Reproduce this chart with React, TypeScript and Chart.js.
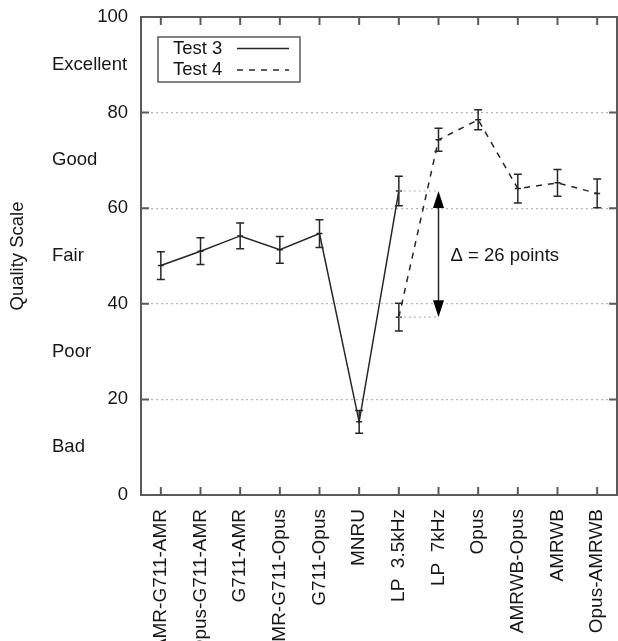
import React, { useEffect, useRef } from 'react';
import { Chart, registerables } from 'chart.js';

Chart.register(...registerables);

const FONT = '"Liberation Sans", Arial, Helvetica, sans-serif';
const TEXT = '#161616';
const LINE = '#262626';
const FRAME = '#5a5a5a';
const GRID = '#b4b4b4';

const categories = [
  'AMR-G711-AMR', 'Opus-G711-AMR', 'G711-AMR', 'AMR-G711-Opus', 'G711-Opus', 'MNRU',
  'LP  3.5kHz', 'LP  7kHz', 'Opus', 'AMRWB-Opus', 'AMRWB', 'Opus-AMRWB',
];
const test3 = [48.0, 51.0, 54.2, 51.3, 54.7, 15.3, 63.6, null, null, null, null, null];
const test3Err = [2.9, 2.8, 2.7, 2.8, 2.9, 2.4, 3.1, null, null, null, null, null];
const test4 = [null, null, null, null, null, null, 37.2, 74.3, 78.5, 64.1, 65.3, 63.1];
const test4Err = [null, null, null, null, null, null, 2.9, 2.4, 2.1, 3.0, 2.8, 3.0];
const yTicks = [0, 20, 40, 60, 80, 100];
const qualityLabels = ['Excellent', 'Good', 'Fair', 'Poor', 'Bad'];
const qualityValues = [90, 70, 50, 30, 10];
const seriesNames = ['Test 3', 'Test 4'];
const deltaLabel = '\u0394 = 26 points';
const deltaFromIndex = 6;
const deltaArrowIndex = 7;

const errorBarsPlugin = {
  id: 'errorBars',
  afterDatasetsDraw(chart: any) {
    const { ctx, scales } = chart;
    const errs = [test3Err, test4Err];
    const vals = [test3, test4];
    ctx.save();
    ctx.strokeStyle = LINE;
    ctx.lineWidth = 1.5;
    ctx.setLineDash([]);
    vals.forEach((arr, d) => {
      arr.forEach((v, i) => {
        const e = errs[d][i];
        if (v == null || e == null) return;
        const x = scales.x.getPixelForValue(i);
        const yt = scales.y.getPixelForValue(v + e);
        const yb = scales.y.getPixelForValue(v - e);
        ctx.beginPath();
        ctx.moveTo(x, yt); ctx.lineTo(x, yb);
        ctx.moveTo(x - 4, yt); ctx.lineTo(x + 4, yt);
        ctx.moveTo(x - 4, yb); ctx.lineTo(x + 4, yb);
        ctx.stroke();
      });
    });
    ctx.restore();
  },
};

const annotationPlugin = {
  id: 'deltaAnnotation',
  afterDatasetsDraw(chart: any) {
    const { ctx, scales } = chart;
    const hi = test3[deltaFromIndex] as number;
    const lo = test4[deltaFromIndex] as number;
    const x0 = scales.x.getPixelForValue(deltaFromIndex);
    const xa = scales.x.getPixelForValue(deltaArrowIndex);
    const yHi = scales.y.getPixelForValue(hi);
    const yLo = scales.y.getPixelForValue(lo);
    ctx.save();
    ctx.strokeStyle = GRID;
    ctx.lineWidth = 1.2;
    ctx.setLineDash([2, 3]);
    ctx.beginPath();
    ctx.moveTo(x0, yHi); ctx.lineTo(xa, yHi);
    ctx.moveTo(x0, yLo); ctx.lineTo(xa, yLo);
    ctx.stroke();
    ctx.setLineDash([]);
    ctx.strokeStyle = LINE;
    ctx.fillStyle = '#000';
    ctx.lineWidth = 1.5;
    ctx.beginPath();
    ctx.moveTo(xa, yHi + 10); ctx.lineTo(xa, yLo - 10);
    ctx.stroke();
    const hl = 17, hw = 5.5;
    ctx.beginPath();
    ctx.moveTo(xa, yHi); ctx.lineTo(xa - hw, yHi + hl); ctx.lineTo(xa + hw, yHi + hl); ctx.closePath();
    ctx.fill();
    ctx.beginPath();
    ctx.moveTo(xa, yLo); ctx.lineTo(xa - hw, yLo - hl); ctx.lineTo(xa + hw, yLo - hl); ctx.closePath();
    ctx.fill();
    ctx.fillStyle = TEXT;
    ctx.font = `18.5px ${FONT}`;
    ctx.textAlign = 'left';
    ctx.textBaseline = 'middle';
    ctx.fillText(deltaLabel, xa + 12, (yHi + yLo) / 2 + 2);
    ctx.restore();
  },
};

const framePlugin = {
  id: 'frameAndExtras',
  afterDraw(chart: any) {
    const { ctx, chartArea: a, scales } = chart;
    ctx.save();
    ctx.setLineDash([]);
    ctx.fillStyle = TEXT;
    ctx.font = `18.5px ${FONT}`;
    ctx.textAlign = 'left';
    ctx.textBaseline = 'middle';
    qualityLabels.forEach((t, i) => {
      ctx.fillText(t, 52, scales.y.getPixelForValue(qualityValues[i]));
    });
    ctx.strokeStyle = FRAME;
    ctx.lineWidth = 2;
    ctx.strokeRect(a.left, a.top, a.right - a.left, a.bottom - a.top);
    ctx.beginPath();
    yTicks.forEach((v) => {
      const y = scales.y.getPixelForValue(v);
      ctx.moveTo(a.left, y); ctx.lineTo(a.left + 8, y);
      ctx.moveTo(a.right, y); ctx.lineTo(a.right - 8, y);
    });
    categories.forEach((_, i) => {
      const x = scales.x.getPixelForValue(i);
      ctx.moveTo(x, a.bottom); ctx.lineTo(x, a.bottom - 8);
      ctx.moveTo(x, a.top); ctx.lineTo(x, a.top + 8);
    });
    ctx.stroke();
    const bx = a.left + 17, by = a.top + 20, bw = 142, bh = 45;
    ctx.lineWidth = 1.5;
    ctx.strokeRect(bx, by, bw, bh);
    ctx.fillStyle = TEXT;
    ctx.textAlign = 'left';
    const rows = [by + 11.5, by + 33];
    seriesNames.forEach((name, i) => {
      ctx.fillText(name, bx + 15, rows[i]);
      ctx.strokeStyle = LINE;
      ctx.lineWidth = 1.5;
      ctx.setLineDash(i === 0 ? [] : [6, 6]);
      ctx.beginPath();
      ctx.moveTo(bx + 79, rows[i]); ctx.lineTo(bx + 131, rows[i]);
      ctx.stroke();
    });
    ctx.restore();
  },
};

export default function App() {
  const ref = useRef<HTMLCanvasElement>(null);
  useEffect(() => {
    if (!ref.current) return;
    Chart.defaults.font.family = FONT;
    const chart = new Chart(ref.current, {
      type: 'line',
      data: {
        labels: categories,
        datasets: [
          {
            label: seriesNames[0],
            data: test3,
            borderColor: LINE,
            borderWidth: 1.5,
            pointStyle: 'line',
            pointRadius: 3,
            pointBorderColor: LINE,
            pointBorderWidth: 1.5,
            spanGaps: false,
            tension: 0,
          },
          {
            label: seriesNames[1],
            data: test4,
            borderColor: LINE,
            borderWidth: 1.5,
            borderDash: [6, 6],
            pointStyle: 'line',
            pointRadius: 3,
            pointBorderColor: LINE,
            pointBorderWidth: 1.5,
            spanGaps: false,
            tension: 0,
          },
        ],
      },
      options: {
        responsive: false,
        animation: false,
        layout: { autoPadding: false, padding: { top: 17, right: 1, left: 0, bottom: 0 } },
        plugins: { legend: { display: false }, tooltip: { enabled: false } },
        scales: {
          x: {
            type: 'category',
            offset: true,
            grid: { display: false, drawTicks: false },
            border: { display: false },
            ticks: {
              autoSkip: false,
              minRotation: 90,
              maxRotation: 90,
              padding: 14,
              color: TEXT,
              font: { size: 19, family: FONT },
            },
            afterFit: (s: any) => {
              s.height = 205;
              s.paddingLeft = 0; s.paddingRight = 0; s.paddingTop = 0; s.paddingBottom = 0;
            },
          },
          y: {
            min: 0,
            max: 100,
            ticks: {
              stepSize: 20,
              padding: 13,
              color: TEXT,
              font: { size: 18.5, family: FONT },
            },
            grid: {
              drawTicks: false,
              lineWidth: 1.2,
              color: (c: any) => (c.tick && (c.tick.value === 0 || c.tick.value === 100) ? 'rgba(0,0,0,0)' : GRID),
            },
            border: { display: false, dash: [2, 3] },
            title: {
              display: true,
              text: 'Quality Scale',
              color: TEXT,
              font: { size: 18.5, family: FONT },
              padding: { top: 7, bottom: 0 },
            },
            afterFit: (s: any) => {
              s.width = 141;
              s.paddingLeft = 0; s.paddingRight = 0; s.paddingTop = 0; s.paddingBottom = 0;
            },
          },
        },
      },
      plugins: [errorBarsPlugin, annotationPlugin, framePlugin],
    });
    return () => chart.destroy();
  }, []);
  return (
    <div style={{ position: 'absolute', left: 0, top: 0, width: 618, height: 700 }}>
      <canvas ref={ref} width={618} height={700} style={{ display: 'block' }} />
    </div>
  );
}
